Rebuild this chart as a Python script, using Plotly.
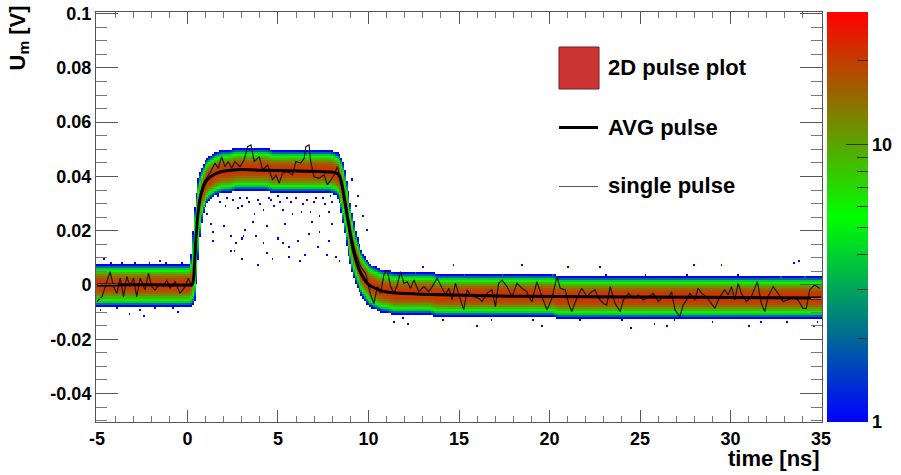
import numpy as np
import plotly.graph_objects as go

# ---------------------------------------------------------------- data
# averaged pulse: time [ns], amplitude [V]
avg_t = [-5.0, -3.0, -1.0, 0.0, 0.26, 0.39, 0.50, 0.72, 1.08, 1.50, 1.90, 2.80, 4.20,
         5.60, 7.00, 8.00, 8.20, 8.37, 8.50, 8.65, 8.93, 9.20, 9.57, 10.03, 10.58,
         11.10, 12.00, 14.00, 18.80, 25.00, 30.00, 35.00]
avg_v = [0.0000, 0.0001, 0.0000, 0.0000, 0.0002, 0.0080, 0.0200, 0.0326, 0.0387, 0.0408,
         0.0418, 0.0425, 0.0423, 0.0421, 0.0419, 0.0416, 0.0413, 0.0405, 0.0380, 0.0326,
         0.0215, 0.0118, 0.0044, 0.0000, -0.0018, -0.0027, -0.0031, -0.0036, -0.0042,
         -0.0044, -0.0046, -0.0048]

# one recorded pulse
single_t = [-5.00, -4.72, -4.45, -4.27, -4.08, -3.90, -3.71, -3.53, -3.35, -3.16, -2.98,
            -2.80, -2.61, -2.34, -2.15, -1.97, -1.79, -1.51, -1.33, -1.14, -0.96, -0.68,
            -0.41, -0.13, 0.05, 0.23, 0.35, 0.45, 0.56, 0.68, 0.82, 0.95, 1.06, 1.24,
            1.52, 1.70, 1.89, 2.07, 2.25, 2.44, 2.62, 2.90, 3.14, 3.32, 3.51, 3.69, 3.97,
            4.15, 4.43, 4.70, 4.89, 5.07, 5.25, 5.53, 5.80, 5.99, 6.26, 6.45, 6.54, 6.72,
            6.81, 6.99, 7.27, 7.55, 7.73, 7.92, 8.10, 8.28, 8.47, 8.74, 9.02, 9.29, 9.57,
            9.84, 10.12, 10.30, 10.49, 10.67, 10.86, 11.04, 11.22, 11.41, 11.59, 11.77,
            11.96, 12.14, 12.32, 12.51, 12.78, 13.06, 13.33, 13.52, 13.79, 13.98, 14.25,
            14.44, 14.62, 14.80, 14.99, 15.26, 15.45, 15.63, 15.81, 16.09, 16.27, 16.55,
            16.82, 17.01, 17.19, 17.38, 17.65, 17.93, 18.20, 18.48, 18.75, 18.85, 19.03,
            19.30, 19.58, 19.86, 20.13, 20.41, 20.59, 20.87, 21.05, 21.23, 21.51, 21.78,
            22.06, 22.33, 22.52, 22.70, 22.98, 23.16, 23.35, 23.62, 23.90, 24.08, 24.36,
            24.63, 24.91, 25.18, 25.46, 25.73, 26.01, 26.28, 26.56, 26.74, 26.93, 27.20,
            27.38, 27.57, 27.75, 28.03, 28.21, 28.40, 28.67, 28.86, 29.13, 29.41, 29.68,
            29.87, 30.05, 30.23, 30.42, 30.60, 30.88, 31.15, 31.33, 31.48, 31.70, 31.89,
            32.07, 32.35, 32.62, 32.90, 33.17, 33.45, 33.72, 34.00, 34.18, 34.37, 34.64,
            34.92]
single_v = [-0.0061, -0.0043, 0.0012, 0.0049, -0.0006, -0.0031, 0.0025, -0.0043, 0.0031,
            -0.0006, 0.0025, -0.0043, 0.0025, -0.0018, 0.0043, -0.0006, -0.0018, 0.0006,
            -0.0006, 0.0018, -0.0012, 0.0012, -0.0031, -0.0006, 0.0025, -0.0006, 0.0045,
            0.0150, 0.0245, 0.0320, 0.0365, 0.0385, 0.0393, 0.0412, 0.0449, 0.0430, 0.0473,
            0.0436, 0.0455, 0.0430, 0.0455, 0.0436, 0.0461, 0.0510, 0.0516, 0.0455, 0.0473,
            0.0424, 0.0442, 0.0387, 0.0406, 0.0375, 0.0412, 0.0418, 0.0406, 0.0455, 0.0449,
            0.0467, 0.0510, 0.0516, 0.0455, 0.0399, 0.0393, 0.0406, 0.0369, 0.0387, 0.0406,
            0.0436, 0.0387, 0.0289, 0.0190, 0.0117, 0.0067, 0.0043, -0.0037, -0.0068,
            -0.0006, -0.0031, 0.0040, 0.0055, -0.0006, -0.0031, 0.0000, 0.0049, 0.0006,
            0.0012, -0.0012, 0.0018, -0.0025, -0.0006, -0.0025, -0.0006, 0.0025, 0.0000,
            -0.0037, -0.0012, -0.0055, 0.0006, -0.0031, -0.0092, -0.0018, -0.0037, -0.0043,
            -0.0049, -0.0061, -0.0031, -0.0018, -0.0080, 0.0006, 0.0018, -0.0006, -0.0043,
            0.0006, -0.0012, -0.0025, -0.0043, -0.0061, 0.0012, -0.0043, -0.0092, -0.0049,
            0.0031, -0.0012, -0.0018, -0.0068, -0.0098, -0.0049, -0.0012, -0.0043, -0.0025,
            -0.0018, -0.0049, -0.0068, -0.0074, -0.0006, -0.0068, -0.0098, -0.0055, -0.0031,
            -0.0049, -0.0037, -0.0055, -0.0043, -0.0031, -0.0061, -0.0043, -0.0049, -0.0025,
            -0.0092, -0.0117, -0.0074, -0.0055, -0.0031, -0.0055, -0.0012, -0.0031, -0.0043,
            -0.0061, -0.0086, -0.0043, -0.0018, -0.0037, -0.0006, -0.0055, 0.0006, -0.0031,
            -0.0061, -0.0043, -0.0012, 0.0012, -0.0068, -0.0098, -0.0043, -0.0006, -0.0031,
            -0.0061, -0.0055, -0.0043, -0.0055, -0.0086, -0.0086, -0.0018, 0.0000, -0.0012]

# entries per bin of the 2D pulse histogram versus distance (in bins) from the average pulse
spread_counts = [22, 21, 20, 18, 15, 12, 9, 6, 4, 2, 1]

# isolated entries away from the main band
hits_t = [3.05, 3.69, 4.24, 4.79, 5.25, 5.80, 6.26, 6.81, 7.27, 7.82, 3.23, 3.78, 4.24, 4.98,
          5.25, 5.62, 6.08, 6.72, 7.27, 7.73, 8.19, 4.43, 4.70, 5.62, 6.54, 6.17, 7.18, 7.82,
          8.37, 2.96, 1.06, 1.34, 1.98, 2.35, 3.08, 2.71, 1.43, 2.07, 2.80, 2.62, 1.38, 2.42,
          3.03, 3.86, 3.40, 4.00, 4.60, 5.10, 5.70, 6.40, 7.00, 7.60, 8.00, 2.50, 1.80, 3.60,
          5.40, 6.90, 4.40, 8.05, 9.11, 9.39, 9.66, 9.94, 9.29, -4.60, -3.20, -1.50, -0.50,
          13.0, 16.0, 21.0, 24.5, 28.0, 31.0, 33.5, 12.2, 18.5, 26.5, 33.8, 11.4, 14.7,
          19.6, 22.8, 29.5, -2.4, 25.8, 34.6,
          1.2, 1.7, 2.2, 2.9, 3.3, 3.9, 4.5, 5.0, 5.5, 6.0, 6.6, 7.1, 7.5, 7.9, 8.3,
          -4.2, -3.6, -2.9, -2.1, -1.2, -0.3, 12.6, 15.3, 17.4, 20.2, 23.1, 25.3, 27.6,
          30.4, 32.8, 34.1, -4.8, -3.9, -2.6, -1.8, -0.8, 11.9, 14.1, 16.8, 19.1, 21.7,
          24.0, 26.9, 29.0, 31.7, 33.1, 34.8]
hits_v = [0.0295, 0.0264, 0.0276, 0.0289, 0.0276, 0.0264, 0.0270, 0.0270, 0.0252, 0.0270,
          0.0203, 0.0178, 0.0160, 0.0172, 0.0160, 0.0141, 0.0166, 0.0184, 0.0191, 0.0111,
          0.0104, 0.0117, 0.0098, 0.0104, 0.0111, 0.0086, 0.0141, 0.0166, 0.0092, 0.0172,
          0.0264, 0.0227, 0.0215, 0.0178, 0.0178, 0.0153, 0.0166, 0.0289, 0.0283, 0.0129,
          0.0195, 0.0129, 0.0100, 0.0074, 0.0310, 0.0300, 0.0315, 0.0305, 0.0310, 0.0302,
          0.0308, 0.0298, 0.0310, 0.0312, 0.0305, 0.0235, 0.0225, 0.0232, 0.0215, 0.0222,
          0.0387, 0.0326, 0.0252, 0.0203, 0.0289, 0.0095, -0.0105, 0.0092, -0.0100,
          0.0068, -0.0150, 0.0070, -0.0155, 0.0075, -0.0150, 0.0080, -0.0140, 0.0072,
          -0.0148, 0.0086, -0.0135, 0.0074, -0.0152, 0.0068, 0.0071, -0.0110, -0.0146,
          -0.0150,
          0.0320, 0.0328, 0.0322, 0.0318, 0.0325, 0.0316, 0.0321, 0.0327, 0.0318, 0.0323,
          0.0317, 0.0324, 0.0319, 0.0326, 0.0320,
          0.0082, 0.0085, 0.0081, 0.0084, 0.0083, 0.0080, 0.0042, 0.0040, 0.0038, 0.0037,
          0.0036, 0.0035, 0.0034, 0.0033, 0.0032, 0.0031, -0.0088, -0.0086, -0.0089,
          -0.0087, -0.0085, -0.0122, -0.0125, -0.0127, -0.0128, -0.0130, -0.0131, -0.0132,
          -0.0133, -0.0134, -0.0135, -0.0136]

x_ticks = [-5, 0, 5, 10, 15, 20, 25, 30, 35]
x_tick_text = ["-5", "0", "5", "10", "15", "20", "25", "30", "35"]
y_ticks = [-0.04, -0.02, 0.0, 0.02, 0.04, 0.06, 0.08, 0.1]
y_tick_text = ["-0.04", "-0.02", "0", "0.02", "0.04", "0.06", "0.08", "0.1"]
z_labels = [1, 10]
z_minor = [2, 3, 4, 5, 6, 7, 8, 9, 20, 30]
z_max = 30

# ---------------------------------------------------------------- 2D histogram
t_edges = np.linspace(-5.05, 35.05, 402)
v_edges = np.linspace(-0.05, 0.10, 201)
t_c = 0.5 * (t_edges[:-1] + t_edges[1:])
v_c = 0.5 * (v_edges[:-1] + v_edges[1:])
dv = v_edges[1] - v_edges[0]

profile = np.array(spread_counts, float)
jitter = np.linspace(-0.15, 0.15, 13)          # timing jitter of the pulses [ns]
counts = np.zeros((len(v_c), len(t_c)))
for s in jitter:
    centre = np.interp(t_c + s, avg_t, avg_v)
    d = np.abs(np.rint((v_c[:, None] - centre[None, :]) / dv)).astype(int)
    counts += np.where(d < len(profile), profile[np.minimum(d, len(profile) - 1)], 0.0)
counts /= len(jitter)
for t, v in zip(hits_t, hits_v):
    i = np.searchsorted(t_edges, t) - 1
    j = np.searchsorted(v_edges, v) - 1
    counts[j, i] += 1

z = [[(float(np.log10(max(c, 1.0))) if c >= 0.5 else None) for c in row] for row in counts]
log_max = float(np.log10(z_max))

# ---------------------------------------------------------------- frame geometry (pixels)
W, H = 901, 475
L, R, T, B = 96, 822, 12, 422
def px_x(p):
    return (p - L) / (R - L)
def px_y(p):
    return (B - p) / (B - T)

FONT = "Liberation Sans, Arial, Helvetica, sans-serif"
bold = lambda size, color="black": dict(family=FONT, size=size, color=color, weight="bold")
AXC = "#555555"
CB = dict(x=px_x(827), xanchor="left", y=0.5, yanchor="middle",
          len=1.0, lenmode="fraction", thickness=41, thicknessmode="pixels",
          outlinewidth=0, xpad=0, ypad=0, tickmode="array", ticks="inside",
          tickwidth=1, tickcolor="#333333", tickfont=bold(18))

fig = go.Figure()
fig.add_trace(go.Heatmap(
    x=t_c, y=v_c, z=z, zmin=0, zmax=log_max, zsmooth=False,
    colorscale=[[0.0, "rgb(0,0,255)"], [0.5, "rgb(0,255,0)"], [1.0, "rgb(255,0,0)"]],
    hoverinfo="skip", showscale=True,
    colorbar=dict(CB, tickvals=[float(np.log10(v)) for v in z_labels],
                  ticktext=[str(v) for v in z_labels], ticklen=22),
))
# transparent scale carrying the short ticks of the colour axis
fig.add_trace(go.Scatter(
    x=[None], y=[None], mode="markers", hoverinfo="skip", showlegend=False,
    marker=dict(color=[0.0], cmin=0, cmax=log_max, showscale=True,
                colorscale=[[0, "rgba(0,0,0,0)"], [1, "rgba(0,0,0,0)"]],
                colorbar=dict(CB, tickvals=[float(np.log10(v)) for v in z_minor],
                              ticklen=11, showticklabels=False)),
))
fig.add_trace(go.Scatter(x=single_t, y=single_v, mode="lines",
                         line=dict(color="#1a1a1a", width=1.2), hoverinfo="skip",
                         showlegend=False))
fig.add_trace(go.Scatter(x=avg_t, y=avg_v, mode="lines", line_shape="spline",
                         line=dict(color="black", width=3), hoverinfo="skip",
                         showlegend=False))

fig.update_layout(
    width=W, height=H,
    margin=dict(l=L, r=W - R, t=T, b=H - B, autoexpand=False),
    paper_bgcolor="white", plot_bgcolor="white",
    showlegend=False,
    xaxis=dict(range=[-5.05, 35.05], tickmode="array", tickvals=x_ticks, ticktext=x_tick_text,
               ticks="inside", ticklen=12, tickwidth=1, tickcolor=AXC,
               showline=True, linecolor=AXC, linewidth=1, mirror="ticks",
               showgrid=False, zeroline=False, tickfont=bold(18),
               minor=dict(tickmode="linear", tick0=-5, dtick=1, ticks="inside", ticklen=6,
                          tickcolor="#777777", showgrid=False)),
    yaxis=dict(range=[-0.0505, 0.1006], tickmode="array", tickvals=y_ticks, ticktext=y_tick_text,
               ticks="inside", ticklen=22, tickwidth=1, tickcolor=AXC,
               showline=True, linecolor=AXC, linewidth=1, mirror="ticks",
               showgrid=False, zeroline=False, tickfont=bold(18),
               minor=dict(tickmode="linear", tick0=0, dtick=0.005, ticks="inside", ticklen=11,
                          tickcolor="#777777", showgrid=False)),
)

# axis titles
fig.add_annotation(text="time [ns]", xref="paper", yref="paper", x=1.0, xanchor="right",
                   y=px_y(458), yanchor="middle", showarrow=False, font=bold(22))
fig.add_annotation(text="U<sub>m</sub> [V]", xref="paper", yref="paper", x=px_x(19),
                   xanchor="center", y=px_y(4), yanchor="top", textangle=-90,
                   showarrow=False, font=bold(22))

# legend
fig.add_shape(type="rect", xref="paper", yref="paper", x0=px_x(559), x1=px_x(599),
              y0=px_y(89), y1=px_y(47), fillcolor="#cc3333",
              line=dict(color="#6b2222", width=1))
fig.add_shape(type="line", xref="paper", yref="paper", x0=px_x(559), x1=px_x(598),
              y0=px_y(127.5), y1=px_y(127.5), line=dict(color="black", width=3))
fig.add_shape(type="line", xref="paper", yref="paper", x0=px_x(559), x1=px_x(598),
              y0=px_y(186.5), y1=px_y(186.5), line=dict(color="#555555", width=1.2))
for label, yc in [("2D pulse plot", 67), ("AVG pulse", 127), ("single pulse", 185)]:
    fig.add_annotation(text=label, xref="paper", yref="paper", x=px_x(606), xanchor="left",
                       y=px_y(yc), yanchor="middle", showarrow=False, font=bold(22))

fig.write_html("out.html")
